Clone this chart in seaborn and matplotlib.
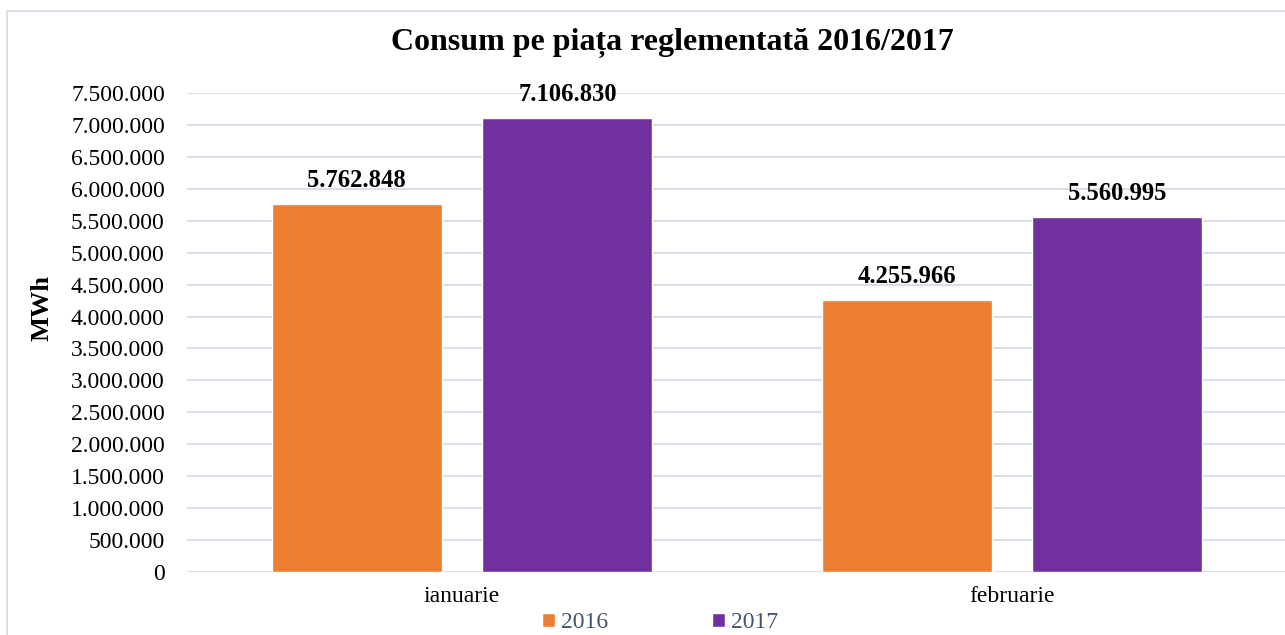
import matplotlib
matplotlib.use("Agg")
import matplotlib.pyplot as plt
import matplotlib.patches as mpatches
import seaborn as sns
import pandas as pd

# data
luni = ["ianuarie", "februarie"]
ani = ["2016", "2017"]
consum_2016 = [5762848, 4255966]
consum_2017 = [7106830, 5560995]
y_ticks = list(range(0, 7500001, 500000))

df = pd.DataFrame({
    "luna": luni * 2,
    "an": [ani[0]] * 2 + [ani[1]] * 2,
    "MWh": consum_2016 + consum_2017,
})

def fmt(v):
    return "{:,.0f}".format(v).replace(",", ".")

sns.set_theme(style="white")
plt.rcParams["font.family"] = ["Liberation Serif", "DejaVu Serif"]

fig = plt.figure(figsize=(12.85, 6.35), dpi=100)
ax = fig.add_axes([187 / 1285, 63 / 635, 1098 / 1285, 479 / 635])

sns.barplot(data=df, x="luna", y="MWh", hue="an", order=luni, hue_order=ani,
            palette=["#ED7D31", "#7030A0"], width=0.767, gap=0.194,
            saturation=1, ax=ax, zorder=3)

for cont in ax.containers:
    ax.bar_label(cont, labels=[fmt(b.get_height()) for b in cont],
                 padding=8.5, fontsize=17.7, fontweight="bold", color="black")

ax.set_ylim(0, 7500000)
ax.set_xlim(-0.5, -0.5 + 1098 / 550)
ax.set_yticks(y_ticks)
ax.set_yticklabels([fmt(v) for v in y_ticks])
ax.tick_params(axis="y", length=0, pad=16, labelsize=17, labelcolor="black")
ax.tick_params(axis="x", length=0, pad=10, labelsize=17, labelcolor="black")
ax.grid(axis="y", color="#D9DEE6", linewidth=1.4, zorder=0)
for s in ax.spines.values():
    s.set_visible(False)

ax.set_xlabel("")
ax.set_ylabel("MWh", fontsize=19, fontweight="bold", color="black")
ax.yaxis.set_label_coords(-0.122, 0.551)

fig.suptitle("Consum pe piața reglementată 2016/2017", x=672 / 1285, y=1 - 43 / 635,
             va="center", fontsize=23, fontweight="bold", color="black")

handles, labels = ax.get_legend_handles_labels()
ax.legend(handles, labels, loc="center", bbox_to_anchor=(660 / 1285, 12 / 635),
          bbox_transform=fig.transFigure, ncol=2, frameon=False, fontsize=17,
          handlelength=0.55, handleheight=0.55, handletextpad=0.25,
          columnspacing=4.4, labelcolor="#44546A")

fig.patches.append(mpatches.Rectangle((7 / 1285, -0.1), 1.2, 1 - 11 / 635 + 0.1,
                                      transform=fig.transFigure, fill=False,
                                      edgecolor="#D9DEE6", linewidth=1.4))

fig.savefig("out.png", dpi=100)
